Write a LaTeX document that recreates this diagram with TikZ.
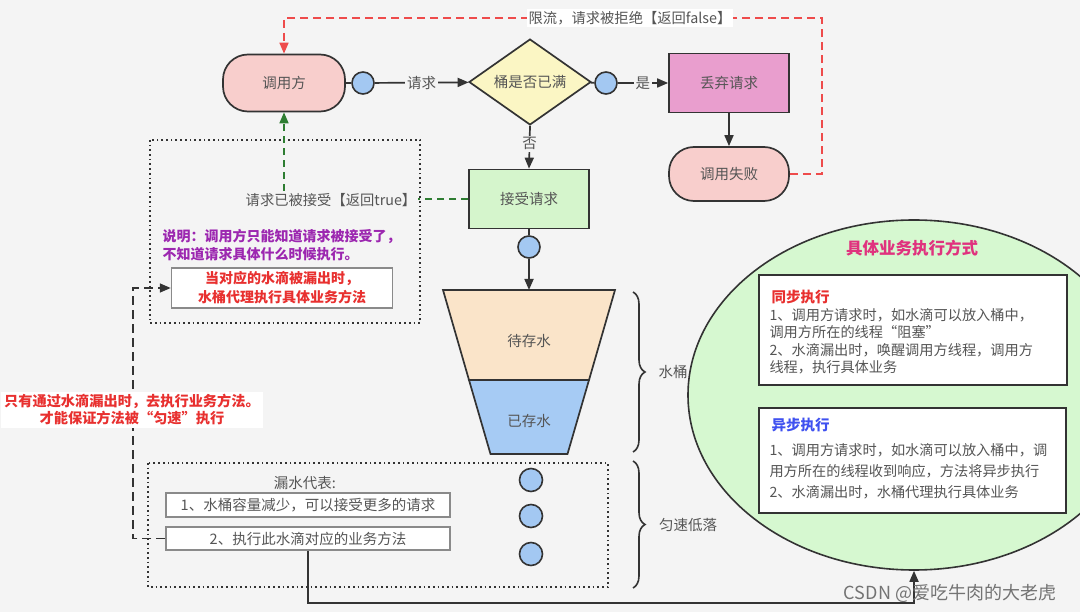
\documentclass[tikz,border=0pt]{standalone}
\usepackage{fontspec}
\setmainfont{Noto Sans CJK SC}
\usetikzlibrary{arrows.meta,shapes.geometric,decorations.pathreplacing}
\definecolor{bgc}{HTML}{F4F4F4}
\definecolor{dk}{HTML}{333333}
\definecolor{txt}{HTML}{555555}
\definecolor{pinkc}{HTML}{F8CECC}
\definecolor{ballc}{HTML}{A3C8F2}
\definecolor{yelc}{HTML}{FBF6C4}
\definecolor{magc}{HTML}{E99ECE}
\definecolor{grnc}{HTML}{D5F5CC}
\definecolor{peach}{HTML}{FAE4C9}
\definecolor{bluw}{HTML}{A6CBF4}
\definecolor{ellc}{HTML}{D6F8D0}
\definecolor{redc}{HTML}{E8302F}
\definecolor{redd}{HTML}{EE4B4B}
\definecolor{grnd}{HTML}{2E7D32}
\definecolor{purp}{HTML}{9C27B0}
\definecolor{titc}{HTML}{E0327E}
\definecolor{bluet}{HTML}{3F51F0}
\definecolor{boxg}{HTML}{8A8A8A}
\newcommand\fz[2]{\fontsize{#1}{#2}\selectfont}
\begin{document}
\begin{tikzpicture}[x=1pt,y=-1pt,
  every node/.style={text=txt, font=\fz{14.5}{17}},
  shapebox/.style={draw=dk, line width=1.7pt, inner sep=0pt},
  stadium/.style={shapebox, rounded corners=25pt, fill=pinkc, minimum width=122pt, minimum height=57pt},
  rectbox/.style={shapebox, minimum width=120pt, minimum height=59pt},
  ball/.style={circle, draw=dk, line width=1.6pt, fill=ballc, minimum size=22pt, inner sep=0pt},
  conn/.style={draw=dk, line width=1.7pt},
  arr/.style={conn, -{Triangle[length=11pt,width=9pt]}},
  lbl/.style={fill=bgc, inner sep=2pt},
  dotbox/.style={draw=dk, line width=1.7pt, dash pattern=on 1.7pt off 3pt},
  itembox/.style={draw=boxg, line width=1.5pt, fill=white, inner sep=0pt},
  brc/.style={draw=dk, line width=1.6pt, decorate, decoration={brace, amplitude=12pt}},
  reddash/.style={draw=redd, line width=1.7pt, dash pattern=on 8pt off 5pt, -{Triangle[length=11pt,width=9pt]}},
  grndash/.style={draw=grnd, line width=1.7pt, dash pattern=on 7pt off 5pt, -{Triangle[length=11pt,width=9pt]}},
  dkdash/.style={draw=dk, line width=1.6pt, dash pattern=on 9pt off 5pt, -{Triangle[length=11pt,width=9pt]}},
  ]
\fill[bgc] (0,0) rectangle (1080,612);
\useasboundingbox (0,0) rectangle (1080,612);

% ellipse (background of right part)
\node[ellipse, draw=dk, line width=1.6pt, fill=ellc, minimum width=452pt, minimum height=350pt, inner sep=0pt] (ell) at (914,395) {};

% dotted boxes
\draw[dotbox] (150,140) rectangle (420,323);
\draw[dotbox] (148,463) rectangle (608,587);

% top row
\node[stadium] (caller) at (284,83) {调用方};
\node[ball] (c1) at (363,83) {};
\node[diamond, shapebox, fill=yelc, minimum width=122pt, minimum height=81pt] (check) at (530,82) {桶是否已满};
\node[ball] (c2) at (606,83) {};
\node[rectbox, fill=magc] (drop) at (729,83) {丢弃请求};
\node[stadium, minimum width=120pt, minimum height=54pt] (fail) at (729,174) {调用失败};
\node[rectbox, fill=grnc] (accept) at (529,199) {接受请求};
\node[ball] (c3) at (529,247) {};
\coordinate (btop) at (529,290);
\coordinate (rc) at (822,18);

\draw[conn] (caller) -- (c1);
\draw[arr] (c1) -- node[lbl] {请求} (check);
\draw[conn] (check) -- (c2);
\draw[arr] (c2) -- node[lbl] {是} (drop);
\draw[arr] (drop) -- (fail);
\draw[arr] (check.south) -- node[lbl, pos=0.42] {否} (accept.north);
\draw[conn] (accept) -- (c3);
\draw[arr] (c3) -- (btop);

% red dashed: rejection
\draw[reddash] (fail.east) -| (rc) -| (caller.north);
\node[fill=white, inner sep=2pt, font=\fz{14.3}{16}] (rej) at (630,18) {限流，请求被拒绝【返回false】};

% green dashed: accepted
\draw[grndash] (accept.west) -| (caller.south);
\node[lbl, font=\fz{14.3}{16}] (acc) at (331,200) {请求已被接受【返回true】};

% bucket
\filldraw[fill=peach, draw=dk, line width=1.7pt] (443,290) -- (615,290) -- (589,380) -- (469,380) -- cycle;
\filldraw[fill=bluw, draw=dk, line width=1.7pt] (469,380) -- (589,380) -- (567.5,454) -- (490.5,454) -- cycle;
\node (wait) at (529,341) {待存水};
\node (have) at (529,421) {已存水};

% braces
\draw[brc] (633,292) -- (633,452);
\node (tong) at (673,372) {水桶};
\draw[brc] (633,461) -- (633,588);
\node (drip) at (688,525) {匀速低落};

% note texts in top dotted box
\node[anchor=west, align=left, text=purp, font=\bfseries\fz{14}{18}] (note) at (159,245) {说明：调用方只能知道请求被接受了，\\不知道请求具体什么时候执行。};
\node[itembox, minimum width=221pt, minimum height=40pt, align=center, text=redc, font=\bfseries\fz{14}{19}] (proxy) at (282,288) {当对应的水滴被漏出时，\\水桶代理执行具体业务方法};

% bottom dotted box contents
\node (leak) at (305,483) {漏水代表:};
\node[itembox, minimum width=284pt, minimum height=24pt] (b1) at (308,505) {1、水桶容量减少，可以接受更多的请求};
\node[itembox, minimum width=284pt, minimum height=23pt] (b2) at (308,538.5) {2、执行此水滴对应的业务方法};
\node[ball, minimum size=23pt] (d1) at (531,480) {};
\node[ball, minimum size=23pt] (d2) at (531,516) {};
\node[ball, minimum size=23pt] (d3) at (531,554) {};

% left dashed connector
\coordinate (lc) at (133,400);
\draw[dkdash] (b2.west) -| (lc) |- (proxy.west);
\node[fill=white, inner sep=3pt, align=center, text=redc, font=\bfseries\fz{14.2}{17}] (only) at (132,410) {只有通过水滴漏出时，去执行业务方法。\\才能保证方法被“匀速”执行};

% bottom connector to ellipse
\coordinate (bl) at (0,603);
\draw[arr] (b2.south) -- (b2.south |- bl) -| (ell.south);

% right part contents
\node[text=titc, font=\bfseries\fz{16.5}{20}] (title) at (912,248) {具体业务执行方式};
\node[draw=dk, line width=1.6pt, fill=white, minimum width=308pt, minimum height=110pt, inner sep=0pt] (sync) at (913,330) {};
\node[anchor=west, text=redc, font=\bfseries\fz{14.5}{17}] (synct) at (768,297) {同步执行};
\node[anchor=west, align=left, font=\fz{14.2}{17.5}] (syncb) at (766,341) {1、调用方请求时，如水滴可以放入桶中，\\调用方所在的线程“阻塞”\\2、水滴漏出时，唤醒调用方线程，调用方\\线程，执行具体业务};
\node[draw=dk, line width=1.6pt, fill=white, minimum width=307pt, minimum height=105pt, inner sep=0pt] (async) at (912.5,460.5) {};
\node[anchor=west, text=bluet, font=\bfseries\fz{14.5}{17}] (asynct) at (768,425) {异步执行};
\node[anchor=west, align=left, font=\fz{14.2}{21}] (asyncb) at (766,471) {1、调用方请求时，如水滴可以放入桶中，调\\用方所在的线程收到响应，方法将异步执行\\2、水滴漏出时，水桶代理执行具体业务};

% watermark
\node[text=black!55, font=\fz{18}{20}] (wm) at (950,593) {CSDN @爱吃牛肉的大老虎};
\end{tikzpicture}
\end{document}
